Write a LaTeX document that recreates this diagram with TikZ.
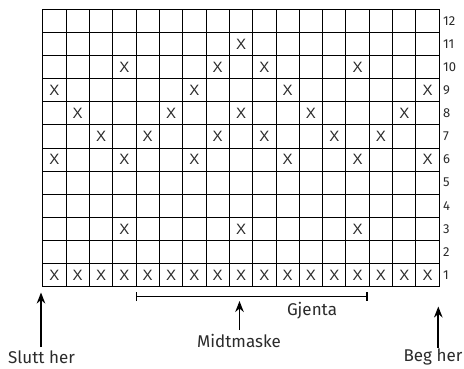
\documentclass[tikz,border=0pt]{standalone}
\usepackage{fontspec}
\setmainfont{Fira Sans}
\newfontfamily\xfont{Liberation Sans}
\usetikzlibrary{arrows.meta}
\definecolor{ink}{HTML}{2B2B2B}
\tikzset{
  gridline/.style={line width=1pt, black},
  xmark/.style={inner sep=0pt, text=ink, font=\xfont\fontsize{15}{16}\selectfont},
  rownum/.style={inner sep=0pt, anchor=west, text=ink, font=\fontsize{13}{15}\selectfont},
  lbl/.style={inner sep=0pt, text=ink, font=\fontsize{17}{20}\selectfont},
  arr/.style={line width=1.7pt, black, -{Stealth[length=11pt,width=8.5pt]}},
  rep/.style={line width=1.4pt, black, {Bar[width=9pt]}-{Bar[width=9pt]}}
}
\def\gx{42.7}\def\gy{9.3}\def\cw{23.33}\def\ch{23.12}
\begin{document}
\begin{tikzpicture}[x=1pt,y=-1pt]
\useasboundingbox (0,0) rectangle (464,369);
\fill[white] (0,0) rectangle (464,369);
% grid
\foreach \i in {0,...,17}
  \draw[gridline] ({\gx+\i*\cw},\gy) -- ({\gx+\i*\cw},{\gy+12*\ch});
\foreach \j in {0,...,12}
  \draw[gridline] (\gx,{\gy+\j*\ch}) -- ({\gx+17*\cw},{\gy+\j*\ch});
% X marks (column, row)
\foreach \c/\r in {9/11,
  4/10,8/10,10/10,14/10,
  1/9,7/9,11/9,17/9,
  2/8,6/8,9/8,12/8,16/8,
  3/7,5/7,8/7,10/7,13/7,15/7,
  1/6,4/6,7/6,11/6,14/6,17/6,
  4/3,9/3,14/3,
  1/1,2/1,3/1,4/1,5/1,6/1,7/1,8/1,9/1,10/1,11/1,12/1,13/1,14/1,15/1,16/1,17/1}
  \node[xmark] (x-\c-\r) at ({\gx+(\c-0.5)*\cw},{\gy+(12.5-\r)*\ch}) {X};
% row numbers
\foreach \r in {1,...,12}
  \node[rownum] (n\r) at (443,{\gy+(12.5-\r)*\ch}) {\r};
% repeat bracket
\coordinate (repA) at (136,296.7);
\coordinate (repB) at (367.7,296.7);
\draw[rep] (repA) -- (repB);
\node[lbl] (gjenta) at (312,310.5) {Gjenta};
% arrows and labels
\node[lbl] (slutt) at (41.5,357) {Slutt her};
\coordinate (sluttTail) at (41,347);
\coordinate (sluttTip) at (41,292.5);
\draw[arr] (sluttTail) -- (sluttTip);
\node[lbl] (midt) at (239,341) {Midtmaske};
\coordinate (midtTail) at (239.5,330);
\coordinate (midtTip) at (239.5,301);
\draw[arr] (midtTail) -- (midtTip);
\node[lbl] (beg) at (433,357) {Beg her};
\coordinate (begTail) at (438.3,348);
\coordinate (begTip) at (438.3,306.5);
\draw[arr] (begTail) -- (begTip);
\end{tikzpicture}
\end{document}
